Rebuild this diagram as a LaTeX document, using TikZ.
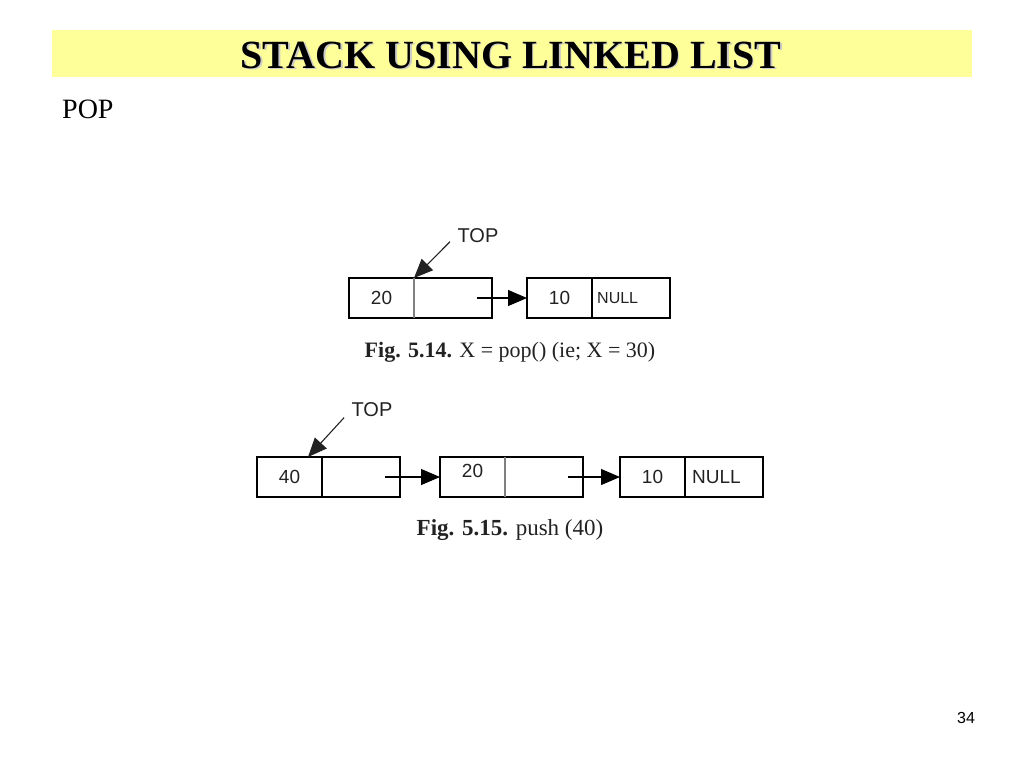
\documentclass[tikz,border=0pt]{standalone}
\usepackage{fontspec}
\setmainfont{Liberation Serif}
\newfontfamily\arialfont{Liberation Sans}
\usetikzlibrary{positioning,arrows.meta}
\definecolor{banner}{HTML}{FFFF99}
\definecolor{ink}{HTML}{222222}
\tikzset{
  datacell/.style={draw,line width=1.1pt,minimum width=65pt,minimum height=40pt,outer sep=0pt,inner sep=0pt,font=\arialfont\fontsize{19}{19}\selectfont,text=ink},
  linkcell/.style={datacell,minimum width=78pt},
  ptr/.style={line width=1.1pt,-{Triangle[length=19pt,width=16pt]}},
  caption/.style={font=\fontsize{22}{22}\selectfont,text=ink}
}
\begin{document}
\begin{tikzpicture}[x=1pt,y=-1pt]
\useasboundingbox (0,0) rectangle (1024,768);
% title banner
\fill[banner] (52,30) rectangle (972,77);
\node[text=gray!40,font=\bfseries\fontsize{40}{40}\selectfont] at (512.5,56.5) {STACK USING LINKED LIST};
\node (title) [font=\bfseries\fontsize{40}{40}\selectfont] at (511,55) {STACK USING LINKED LIST};
\node (pop) [anchor=west,font=\fontsize{28}{28}\selectfont,inner sep=0pt] at (62,109) {POP};

% fig 5.14
\node[datacell] (a1) at (381.5,298) {20};
\node[linkcell,right=0pt of a1] (a2) {};
\draw[gray,line width=1.4pt] (a1.north east) -- (a1.south east);
\node[datacell] (b1) at (559.5,298) {10};
\node[linkcell,right=0pt of b1] (b2) {};
\node (null1) [anchor=west,inner sep=0pt,text=ink,font=\arialfont\fontsize{16}{16}\selectfont] at ([xshift=5pt]b2.west) {NULL};
\draw[ptr] ([xshift=-15pt]a2.east) -- (b1.west);
\node (top1) [text=ink,font=\arialfont\fontsize{20}{20}\selectfont] at (478,236) {TOP};
\draw[ptr,draw=ink] ([xshift=-4pt,yshift=5pt]top1.south west) -- (a1.north east);
\node (cap1) [caption] at (510,352) {\textbf{Fig. 5.14.} X = pop() (ie; X = 30)};

% fig 5.15
\node[datacell] (c1) at (289.5,477) {40};
\node[linkcell,right=0pt of c1] (c2) {};
\node[datacell,text depth=12pt] (d1) at (472.5,477) {20};
\node[linkcell,right=0pt of d1] (d2) {};
\draw[gray,line width=1.4pt] (d1.north east) -- (d1.south east);
\node[datacell] (e1) at (652.5,477) {10};
\node[linkcell,right=0pt of e1] (e2) {};
\node (null2) [anchor=west,inner sep=0pt,text=ink,font=\arialfont\fontsize{19}{19}\selectfont] at ([xshift=7pt]e2.west) {NULL};
\draw[ptr] ([xshift=-15pt]c2.east) -- (d1.west);
\draw[ptr] ([xshift=-15pt]d2.east) -- (e1.west);
\node (top2) [text=ink,font=\arialfont\fontsize{20}{20}\selectfont] at (372,410) {TOP};
\draw[ptr,draw=ink] ([xshift=-4pt,yshift=3pt]top2.south west) -- ([xshift=-14pt]c1.north east);
\node (cap2) [caption,font=\fontsize{23}{23}\selectfont] at (510,530) {\textbf{Fig. 5.15.} push (40)};

\node (page) [font=\arialfont\fontsize{16}{16}\selectfont] at (966,718) {34};
\end{tikzpicture}
\end{document}
